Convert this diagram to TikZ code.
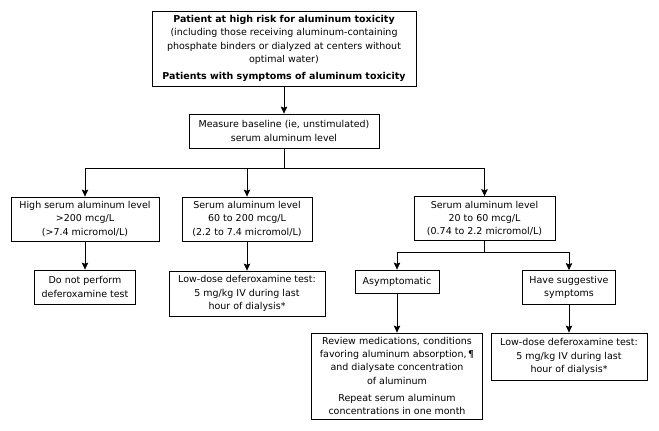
\documentclass[tikz,border=0pt]{standalone}
\usepackage{fontspec}
\setmainfont{DejaVu Sans}
\usepackage{tikz}
\usetikzlibrary{arrows.meta,positioning,calc}

\tikzset{
  box/.style={draw, line width=0.8pt, align=center, inner sep=2pt,
    font=\fontsize{9.5}{13.2}\selectfont},
  arr/.style={line width=0.8pt, -{Stealth[length=7pt,width=6.5pt,inset=1.2pt]}},
  ln/.style={line width=0.8pt}
}

\begin{document}
\begin{tikzpicture}[x=1pt,y=-1pt]
\useasboundingbox (0,0) rectangle (659,431);
% top part
\node[box, minimum width=264pt, minimum height=75pt] (risk) at (284,48.5)
  {\textbf{Patient at high risk for aluminum toxicity}\\
   (including those receiving aluminum-containing\\
   phosphate binders or dialyzed at centers without\\
   optimal water)\\[4pt]
   \textbf{Patients with symptoms of aluminum toxicity}};
\node[box, minimum width=190pt, minimum height=34pt] (baseline) at (284,131)
  {Measure baseline (ie, unstimulated)\\ serum aluminum level};
% the three levels
\node[box, minimum width=148pt, minimum height=44pt] (high) at (85,219)
  {High serum aluminum level\\ >200 mcg/L\\ (>7.4 micromol/L)};
\node[box, minimum width=130pt, minimum height=44pt] (mid) at (247,219)
  {Serum aluminum level\\ 60 to 200 mcg/L\\ (2.2 to 7.4 micromol/L)};
\node[box, minimum width=141pt, minimum height=44pt] (low) at (484.5,218.5)
  {Serum aluminum level\\ 20 to 60 mcg/L\\ (0.74 to 2.2 micromol/L)};
% what to do
\node[box, minimum width=101pt, minimum height=34pt] (notest) at (85,287)
  {Do not perform\\ deferoxamine test};
\node[box, minimum width=156pt, minimum height=45pt] (midtest) at (247,293.5)
  {Low-dose deferoxamine test:\\ 5 mg/kg IV during last\\ hour of dialysis*};
\node[box, minimum width=84pt, minimum height=23pt] (asym) at (397,281.5)
  {Asymptomatic};
\node[box, minimum width=93pt, minimum height=34pt] (sympt) at (569,287.5)
  {Have suggestive\\ symptoms};
\node[box, minimum width=171pt, minimum height=86pt] (review) at (397,376)
  {Review medications, conditions\\
   favoring aluminum absorption,\,¶\\
   and dialysate concentration\\
   of aluminum\\[4pt]
   Repeat serum aluminum\\
   concentrations in one month};
\node[box, minimum width=156pt, minimum height=47pt] (lowtest) at (569,356.5)
  {Low-dose deferoxamine test:\\ 5 mg/kg IV during last\\ hour of dialysis*};

\coordinate (split1) at (284,168.5);
\coordinate (split2) at (484.5,252.5);

\draw[arr] (risk.south) -- (baseline.north);
\draw[ln] (baseline.south) -- (split1);
\draw[arr] (split1) -| (high.north);
\draw[arr] (split1) -| (low.north);
\draw[arr] (mid.north |- split1) -- (mid.north);
\draw[arr] (high.south) -- (notest.north);
\draw[arr] (mid.south) -- (midtest.north);
\draw[ln] (low.south) -- (split2);
\draw[arr] (split2) -| (asym.north);
\draw[arr] (split2) -| (sympt.north);
\draw[arr] (asym.south) -- (review.north);
\draw[arr] (sympt.south) -- (lowtest.north);
\end{tikzpicture}
\end{document}
